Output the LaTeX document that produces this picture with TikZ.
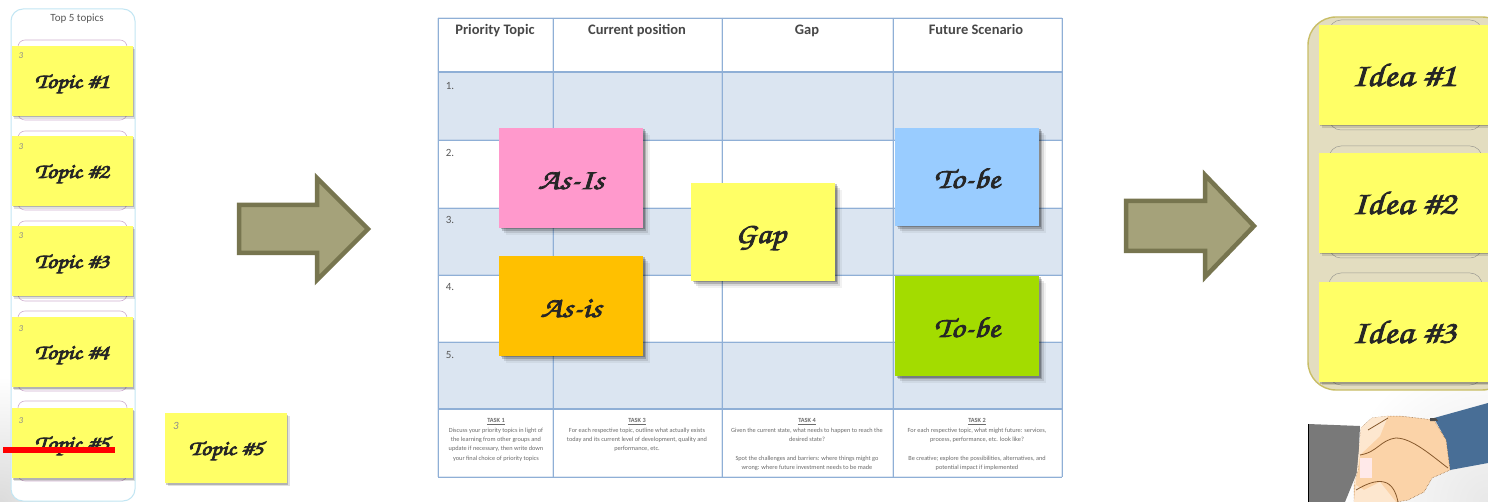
\documentclass[tikz,border=0pt]{standalone}
\usepackage[T1,TU]{fontenc}
\usepackage{graphicx}
\usepackage{fontspec}
\setmainfont{Carlito}
\usetikzlibrary{shadows,calc}
\newcommand\chancery[2]{\scalebox{1.18}[1]{\fontencoding{T1}\fontfamily{pzc}\fontseries{m}\fontshape{it}\fontsize{#1}{#1}\selectfont\special{pdf:code 2 Tr 0.7 w}#2\special{pdf:code 0 Tr}}}
\definecolor{noteyellow}{HTML}{FFFF66}
\definecolor{arrowfill}{HTML}{A5A27A}
\definecolor{arrowline}{HTML}{77754F}
\definecolor{rowblue}{HTML}{DBE5F1}
\definecolor{gridblue}{HTML}{8FAFD6}
\definecolor{paneltan}{HTML}{E3DDC0}
\definecolor{panelline}{HTML}{C9BE66}
\definecolor{skin}{HTML}{FBD3A8}
\definecolor{notepink}{HTML}{FF99CC}
\definecolor{noteorange}{HTML}{FFC000}
\definecolor{noteblue}{HTML}{99CCFF}
\definecolor{notegreen}{HTML}{A3DC00}
\definecolor{sleeveblue}{HTML}{486E96}
\tikzset{
  softshadow/.style={
    general shadow={shadow xshift=1.5pt,shadow yshift=-1.5pt,fill=black,opacity=.22},
    general shadow={shadow xshift=3pt,shadow yshift=-3pt,fill=black,opacity=.18},
    general shadow={shadow xshift=5pt,shadow yshift=-5pt,fill=black,opacity=.10},
    general shadow={shadow xshift=7pt,shadow yshift=-7pt,fill=black,opacity=.05}},
  tinyshadow/.style={
    general shadow={shadow xshift=1pt,shadow yshift=-1.5pt,fill=black,opacity=.2},
    general shadow={shadow xshift=2.5pt,shadow yshift=-3pt,fill=black,opacity=.12}},
  bignote/.style={softshadow,inner sep=0pt,minimum width=144pt,text=black!85,text height=22pt,text depth=0pt},
  topicnote/.style={tinyshadow,fill=noteyellow,inner sep=0pt,minimum width=121pt,minimum height=70pt,text=black!85,text height=14pt,text depth=0pt},
  ideanote/.style={tinyshadow,fill=noteyellow,inner sep=0pt,minimum width=170pt,minimum height=100pt,text=black!85,text height=22pt,text depth=0pt},
  slotbox/.style={draw=black!20!violet!30,rounded corners=7pt,line width=.6pt,fill=white},
  slotidea/.style={draw=gray!70!paneltan,rounded corners=12pt,line width=.5pt,fill=paneltan},
  blockarrow/.style={draw=arrowline,fill=arrowfill,line width=4.5pt,miter limit=10},
  gridhalo/.style={draw=gridblue,line width=2.6pt,opacity=.28},
  gridline/.style={draw=gridblue,line width=.9pt},
  heavygrid/.style={draw=gridblue,line width=2.4pt},
  headtext/.style={font=\bfseries\fontsize{14.5}{16}\selectfont,text=black!72,anchor=base},
  rownum/.style={font=\fontsize{11}{12}\selectfont,text=black!65},
  tasktext/.style={font=\fontsize{6.3}{9.4}\selectfont,text=black!58,align=center,anchor=north},
  mark3/.style={font=\itshape\fontsize{9}{9}\selectfont,text=black!45}
}
\begin{document}
\begin{tikzpicture}[x=1pt,y=-1pt]
\useasboundingbox (0,0) rectangle (1488,502);
\fill[white] (0,0) rectangle (1488,502);
\clip (0,0) rectangle (1488,502);
% page shading
\shade[inner color=black!14,outer color=white] (0,502) circle (125);
\shade[inner color=black!9,outer color=white] (1488,502) circle (150);

% left panel
\draw[draw=black!15!cyan!25,line width=1pt,fill=white,rounded corners=12pt] (11,9) rectangle (135,501);
\node[font=\fontsize{11}{12}\selectfont,text=black!65] (toptitle) at (77,19) {Top 5 topics};
\foreach \y/\h in {40/120,131/210,221/301,311/391,401/481}
  \draw[slotbox] (18,\y) rectangle (127,\h);
\node[topicnote] (t1) at (72,81) {\chancery{21}{Topic \#1}};
\node[topicnote] (t2) at (72,171) {\chancery{21}{Topic \#2}};
\node[topicnote] (t3) at (72,261) {\chancery{21}{Topic \#3}};
\node[topicnote] (t4) at (72,352) {\chancery{21}{Topic \#4}};
\node[topicnote] (t5) at (72,443) {\chancery{21}{Topic \#5}};
\node[mark3] (m1) at (21,56) {3};
\node[mark3] (m2) at (21,147) {3};
\node[mark3] (m3) at (21,236) {3};
\node[mark3] (m4) at (21,329) {3};
\node[mark3] (m5) at (21,421) {3};
\fill[red] (3,447) rectangle (115,453);
\node[topicnote,minimum width=122pt] (t5copy) at (226,448) {\chancery{21}{Topic \#5}};
\node[mark3,font=\itshape\fontsize{11}{11}\selectfont] (m6) at (176,426) {3};

% arrows
\draw[blockarrow] (239,205) -- (317,205) -- (317,178) -- (368,229) -- (317,280) -- (317,253) -- (239,253) -- cycle;
\draw[blockarrow] (1126,201) -- (1205,201) -- (1205,175) -- (1254,226) -- (1205,277) -- (1205,251) -- (1126,251) -- cycle;

% table
\fill[rowblue] (438,72) rectangle (1062,140);
\fill[rowblue] (438,208) rectangle (1062,275);
\fill[rowblue] (438,342) rectangle (1062,409);
\foreach \x in {438,553,722,893,1062} {\draw[gridhalo] (\x,18) -- (\x,477); \draw[gridline] (\x,18) -- (\x,477);}
\foreach \y in {18,140,208,275,342,477} {\draw[gridhalo] (438,\y) -- (1062,\y); \draw[gridline] (438,\y) -- (1062,\y);}
\foreach \y in {72,409} \draw[heavygrid] (438,\y) -- (1062,\y);
\node[headtext] (h1) at (495,35) {Priority Topic};
\node[headtext] (h2) at (637,35) {Current position};
\node[headtext] (h3) at (807,35) {Gap};
\node[headtext] (h4) at (976,35) {Future Scenario};
\node[rownum] (r1) at (450,86) {1.};
\node[rownum] (r2) at (450,153) {2.};
\node[rownum] (r3) at (450,220) {3.};
\node[rownum] (r4) at (450,287) {4.};
\node[rownum] (r5) at (450,355) {5.};
\node[tasktext] (k1) at (496,415) {\underline{\textbf{TASK 1}}\\Discuss your priority topics in light of\\the learning from other groups and\\update if necessary, then write down\\your final choice of priority topics};
\node[tasktext] (k2) at (637,415) {\underline{\textbf{TASK 3}}\\For each respective topic, outline what actually exists\\today and its current level of development, quality and\\performance, etc.};
\node[tasktext] (k3) at (807,415) {\underline{\textbf{TASK 4}}\\Given the current state, what needs to happen to reach the\\desired state?\\[9.4pt]Spot the challenges and barriers: where things might go\\wrong: where future investment needs to be made};
\node[tasktext] (k4) at (977,415) {\underline{\textbf{TASK 2}}\\For each respective topic, what might future: services,\\process, performance, etc. look like?\\[9.4pt]Be creative; explore the possibilities, alternatives, and\\potential impact if implemented};

% big notes
\node[bignote,fill=noteyellow,minimum height=98pt] (gap) at (763,232) {\chancery{29}{Gap}\hspace*{5pt}};
\node[bignote,fill=notepink,minimum height=100pt] (asis1) at (571,178) {\chancery{29}{As-Is}};
\node[bignote,fill=noteorange,minimum height=100pt] (asis2) at (571,306) {\chancery{29}{As-is}};
\node[bignote,fill=noteblue,minimum height=98pt] (tobe1) at (967,177) {\chancery{29}{To-be}};
\node[bignote,fill=notegreen,minimum height=100pt] (tobe2) at (967,326) {\chancery{29}{To-be}};

% right panel
\draw[draw=panelline,line width=1.4pt,fill=paneltan,rounded corners=28pt] (1308,17) rectangle (1510,390);
\foreach \y/\h in {20/130,146/258,273/385}
  \draw[slotidea] (1329,\y) rectangle (1482,\h);
\node[ideanote] (i1) at (1404,75) {\chancery{33}{Idea \#1}};
\node[ideanote] (i2) at (1404,203) {\chancery{33}{Idea \#2}};
\node[ideanote] (i3) at (1404,332) {\chancery{33}{Idea \#3}};

% handshake
\fill[gray!95!black] (1308,424) -- (1360,426) -- (1358,470) -- (1345,502) -- (1308,502) -- cycle;
\draw[black,line width=1.2pt] (1308.5,424) -- (1308.5,502);
\fill[sleeveblue] (1434,418) -- (1488,403) -- (1488,463) -- (1450,470) -- (1446,440) -- cycle;
\fill[skin,draw=brown!70!black,densely dotted,line width=.5pt] (1361,428) -- (1372,418) -- (1388,416) -- (1400,416) -- (1434,420) -- (1446,440) -- (1450,470) -- (1432,478) -- (1424,492) -- (1408,500) -- (1396,502) -- (1354,502) -- (1354,484) -- (1358,470) -- cycle;
\fill[white!45!skin] (1361,428) -- (1372,418) -- (1388,416) -- (1380,436) -- (1360,455) -- (1358,470) -- (1354,484) -- (1364,490) -- (1380,482) -- (1396,502) -- (1354,502) -- cycle;
\fill[pink!35!white] (1360,458) rectangle (1372,478);
\draw[brown!70!black,line width=.8pt] (1360,455) .. controls (1378,452) and (1380,440) .. (1396,438) .. controls (1412,438) and (1432,456) .. (1448,468);
\draw[brown!70!black,line width=.8pt] (1356,490) .. controls (1366,484) and (1376,480) .. (1384,482) .. controls (1392,484) and (1396,492) .. (1398,502);
\draw[brown!70!black,line width=.8pt] (1368,430) -- (1388,418);
\fill[black!70] (1430,418) -- (1436,418) -- (1438,421) -- (1430,421) -- cycle;
\end{tikzpicture}
\end{document}
